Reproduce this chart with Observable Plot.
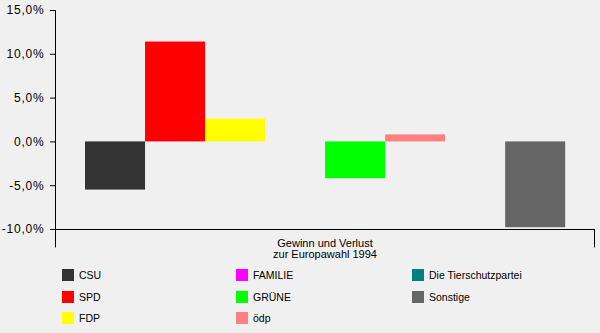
<!DOCTYPE html>
<html><head><meta charset="utf-8">
<script src="https://cdn.jsdelivr.net/npm/d3@7"></script>
<script src="https://cdn.jsdelivr.net/npm/@observablehq/plot@0.6"></script>
<style>
html,body{margin:0;padding:0;background:#f0f0f0;}
#chart svg{display:block}
#legend{position:relative;width:600px;height:71px;font-family:"Liberation Sans",Arial,sans-serif;font-size:10.5px;color:#000}
.item{position:absolute;display:flex;align-items:center;height:12px;white-space:nowrap}
.sw{width:12px;height:12px;margin-right:5px;flex:none}
g[aria-label="y-axis tick label"] text{letter-spacing:0.8px}
</style></head><body>
<div id="chart"></div><div id="legend"></div>
<script>
const parties = ["CSU","SPD","FDP","FAMILIE","GRÜNE","ödp","Die Tierschutzpartei","Sonstige"];
const changes = [-5.5, 11.4, 2.6, 0, -4.2, 0.8, 0, -9.8];
const colors = ["#333333","#ff0000","#ffff00","#ff00ff","#00ff00","#ff8080","#008080","#666666"];
const yTicks = [-10, -5, 0, 5, 10, 15];
const axisTitle = "Gewinn und Verlust\nzur Europawahl 1994";

const data = parties.map((p, i) => ({party: p, slot: i, value: changes[i]}));

const chart = Plot.plot({
  width: 600, height: 262,
  marginLeft: 55, marginRight: 6, marginTop: 10, marginBottom: 33,
  style: {background: "#f0f0f0", fontFamily: "Liberation Sans, Arial, sans-serif", fontSize: "12px", color: "#000"},
  x: {domain: [-0.5, 8.48], axis: null},
  y: {domain: [-10, 15], ticks: yTicks, tickFormat: d => d.toFixed(1).replace(".", ",") + "%", tickSize: 5, tickPadding: 6, label: null},
  color: {domain: parties, range: colors},
  marks: [
    Plot.rect(data, {x1: "slot", x2: d => d.slot + 1, y1: 0, y2: "value", fill: "party"}),
    Plot.ruleY([-10], {stroke: "#000"}),
    Plot.ruleX([-0.5], {y1: -12.1, y2: 15, stroke: "#000"}),
    Plot.ruleX([8.48], {y1: -12.1, y2: -10, stroke: "#000"}),
    Plot.text([axisTitle], {text: d => d, frameAnchor: "bottom", lineAnchor: "top", dy: 9.5, lineHeight: 1, fontSize: 11, fill: "#000"})
  ]
});
document.getElementById("chart").appendChild(chart);

const colLeft = [62, 236, 412];
const rowTop = [7, 29, 50];
const legend = d3.select("#legend");
parties.forEach((p, i) => {
  const col = Math.floor(i / 3), row = i % 3;
  const item = legend.append("div").attr("class", "item")
    .style("left", colLeft[col] + "px").style("top", rowTop[row] + "px");
  item.append("div").attr("class", "sw").style("background", colors[i]);
  item.append("span").text(p);
});
</script>
</body></html>
